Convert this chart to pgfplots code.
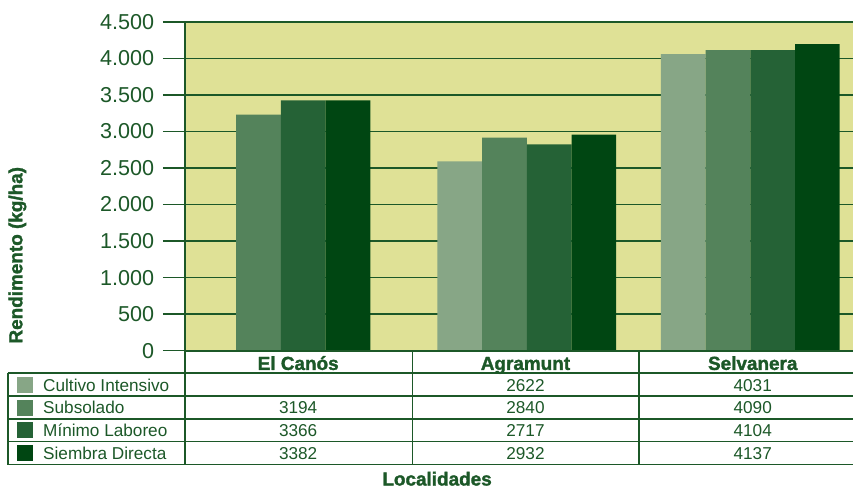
\documentclass[border=0pt]{standalone}
\usepackage{pgfplots}
\pgfplotsset{compat=1.18}
\usepackage{fontspec}
\setmainfont{Liberation Sans}
\newfontfamily\heavy{Liberation Sans}[BoldFeatures={FakeBold=1.6}]
\definecolor{bgc}{RGB}{223,225,150}
\definecolor{c1}{RGB}{135,166,134}
\definecolor{c2}{RGB}{84,131,91}
\definecolor{c3}{RGB}{37,98,54}
\definecolor{c4}{RGB}{0,70,18}
\definecolor{dg}{RGB}{28,88,40}
\begin{document}
\begin{tikzpicture}
% pixel frame: (px,py) with py measured from top; plot-area lower-left = (185,351)
\begin{scope}[x=0.75pt,y=-0.75pt,shift={(-138.75pt,263.25pt)}]
\path[use as bounding box] (0,0) rectangle (854,488);
\end{scope}
\begin{axis}[
  at={(0,0)}, anchor=south west,
  scale only axis, width=501.75pt, height=246.75pt,
  xmin=-0.53, xmax=2.46, ymin=0, ymax=4500,
  axis line style={draw=none},
  axis background/.style={fill=bgc},
  xtick=\empty,
  ytick={0,500,1000,1500,2000,2500,3000,3500,4000,4500},
  yticklabels={0,500,1.000,1.500,2.000,2.500,3.000,3.500,4.000,4.500},
  ytick pos=left,
  tick align=outside,
  major tick length=16.5pt,
  every tick/.style={dg, line width=1.2pt},
  ymajorgrids,
  grid style={dg, line width=1.2pt},
  /pgf/number format/assume math mode=true,
  yticklabel style={font=\fontsize{16.2}{19}\selectfont, text=dg, xshift=-3pt},
  ybar, bar width=0.2,
]
\addplot[bar shift=0pt, fill=c1, draw=none] coordinates {(0.7,2592) (1.7,4059)};
\addplot[bar shift=0pt, fill=c2, draw=none] coordinates {(-0.2,3233) (0.9,2918) (1.9,4114)};
\addplot[bar shift=0pt, fill=c3, draw=none] coordinates {(0,3425) (1.1,2825) (2.1,4114)};
\addplot[bar shift=0pt, fill=c4, draw=none] coordinates {(0.2,3425) (1.3,2959) (2.3,4196)};
\end{axis}
\begin{scope}[x=0.75pt,y=-0.75pt,shift={(-138.75pt,263.25pt)}]
\begin{scope}[dg, line width=1.3pt]
\draw (185,22) -- (185,465);
\draw (413,351) -- (413,465);
\draw (640,351) -- (640,465);
\draw (185,351) -- (854,351);
\foreach \yy in {373.3,396.7,419.3,442,465} {\draw (8,\yy) -- (854,\yy);}
\draw (8,373.3) -- (8,465);
\end{scope}
\fill[c1] (17,377) rectangle (33,393);
\fill[c2] (17,400) rectangle (33,416);
\fill[c3] (17,422.5) rectangle (33,438.5);
\fill[c4] (17,445) rectangle (33,461);
\begin{scope}[text=dg, font=\fontsize{12.9}{15}\selectfont, every node/.append style={anchor=base, inner sep=0pt}]
\node[anchor=base west] at (43,391.5) {Cultivo Intensivo};
\node[anchor=base west] at (43,414.3) {Subsolado};
\node[anchor=base west] at (43,437) {Mínimo Laboreo};
\node[anchor=base west] at (43,459.8) {Siembra Directa};
\node at (298.5,414.3) {3194};
\node at (298.5,437) {3366};
\node at (298.5,459.8) {3382};
\node at (526,391.5) {2622};
\node at (526,414.3) {2840};
\node at (526,437) {2717};
\node at (526,459.8) {2932};
\node at (753.5,391.5) {4031};
\node at (753.5,414.3) {4090};
\node at (753.5,437) {4104};
\node at (753.5,459.8) {4137};
\end{scope}
\begin{scope}[text=dg, font=\heavy\bfseries\fontsize{14.2}{17}\selectfont, every node/.append style={anchor=base, inner sep=0pt}]
\node at (298.5,370.3) {El Canós};
\node at (526,370.3) {Agramunt};
\node at (753.5,370.3) {Selvanera};
\node at (437.5,486) {Localidades};
\node[rotate=90, anchor=center, inner sep=2pt] at (17.5,255.5) {Rendimento (kg/ha)};
\end{scope}
\end{scope}
\end{tikzpicture}
\end{document}
